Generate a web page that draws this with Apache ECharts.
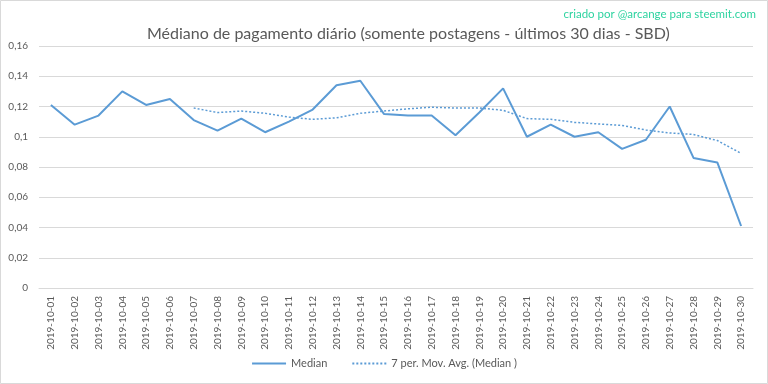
<!DOCTYPE html>
<html><head><meta charset="utf-8">
<script src="https://cdn.jsdelivr.net/npm/echarts@6/dist/echarts.min.js"></script>
<style>html,body{margin:0;padding:0;background:#fff}#c{width:768px;height:384px}</style>
</head><body><div id="c"></div>
<script>
const categories = ['2019-10-01','2019-10-02','2019-10-03','2019-10-04','2019-10-05','2019-10-06','2019-10-07','2019-10-08','2019-10-09','2019-10-10','2019-10-11','2019-10-12','2019-10-13','2019-10-14','2019-10-15','2019-10-16','2019-10-17','2019-10-18','2019-10-19','2019-10-20','2019-10-21','2019-10-22','2019-10-23','2019-10-24','2019-10-25','2019-10-26','2019-10-27','2019-10-28','2019-10-29','2019-10-30'];
const median = [0.121,0.108,0.114,0.130,0.121,0.125,0.111,0.104,0.112,0.103,0.110,0.118,0.134,0.137,0.115,0.114,0.114,0.101,0.116,0.132,0.100,0.108,0.100,0.103,0.092,0.098,0.120,0.086,0.083,0.041];
const movAvg = [null,null,null,null,null,null,0.119,0.116,0.117,0.1155,0.113,0.1115,0.1125,0.1155,0.117,0.1185,0.1195,0.119,0.119,0.1175,0.112,0.1115,0.1095,0.1085,0.1075,0.1045,0.1025,0.1015,0.0975,0.089];
const yTicks = {min:0, max:0.16, interval:0.02};
const titleText = 'Médiano de pagamento diário (somente postagens - últimos 30 dias - SBD)';
const creditText = 'criado por @arcange para steemit.com';

const chart = echarts.init(document.getElementById('c'), null, {renderer:'canvas'});
const font = 'Lato, "Open Sans", sans-serif';
chart.setOption({
  animation:false,
  backgroundColor:'#fff',
  graphic:[
    {type:'rect', shape:{x:0.5,y:0.5,width:767,height:383}, style:{fill:null, stroke:'#d9d9d9', lineWidth:1}},
    {type:'text', right:12, top:8, style:{text:creditText, fill:'#2ed3a0', font:'11.5px '+font}}
  ],
  title:{text:titleText, left:142, top:21, textStyle:{color:'#595959', fontSize:16, fontWeight:'normal', fontFamily:font}},
  grid:{left:39, right:15, top:46, bottom:96},
  legend:{bottom:10, left:'center', itemWidth:34, itemHeight:10, itemGap:24,
    itemStyle:{opacity:0},
    textStyle:{color:'#595959', fontSize:11, fontFamily:font},
    data:['Median','7 per. Mov. Avg. (Median )']},
  xAxis:{type:'category', data:categories, boundaryGap:true,
    axisLine:{lineStyle:{color:'#d9d9d9'}}, axisTick:{show:false},
    axisLabel:{rotate:90, interval:0, color:'#595959', fontSize:10, fontFamily:font, margin:8}},
  yAxis:{type:'value', min:yTicks.min, max:yTicks.max, interval:yTicks.interval,
    axisLine:{show:false}, axisTick:{show:false},
    splitLine:{lineStyle:{color:'#d9d9d9'}},
    axisLabel:{color:'#595959', fontSize:10, fontFamily:font, margin:11,
      formatter:v=>String(+v.toFixed(2)).replace('.',',')}},
  series:[
    {name:'Median', type:'line', data:median, symbol:'none', lineStyle:{color:'#5b9bd5', width:2}, itemStyle:{color:'#5b9bd5'}},
    {name:'7 per. Mov. Avg. (Median )', type:'line', data:movAvg, symbol:'none', lineStyle:{color:'#5b9bd5', width:1.5, type:[2,2]}, itemStyle:{color:'#5b9bd5'}}
  ]
});
</script></body></html>
